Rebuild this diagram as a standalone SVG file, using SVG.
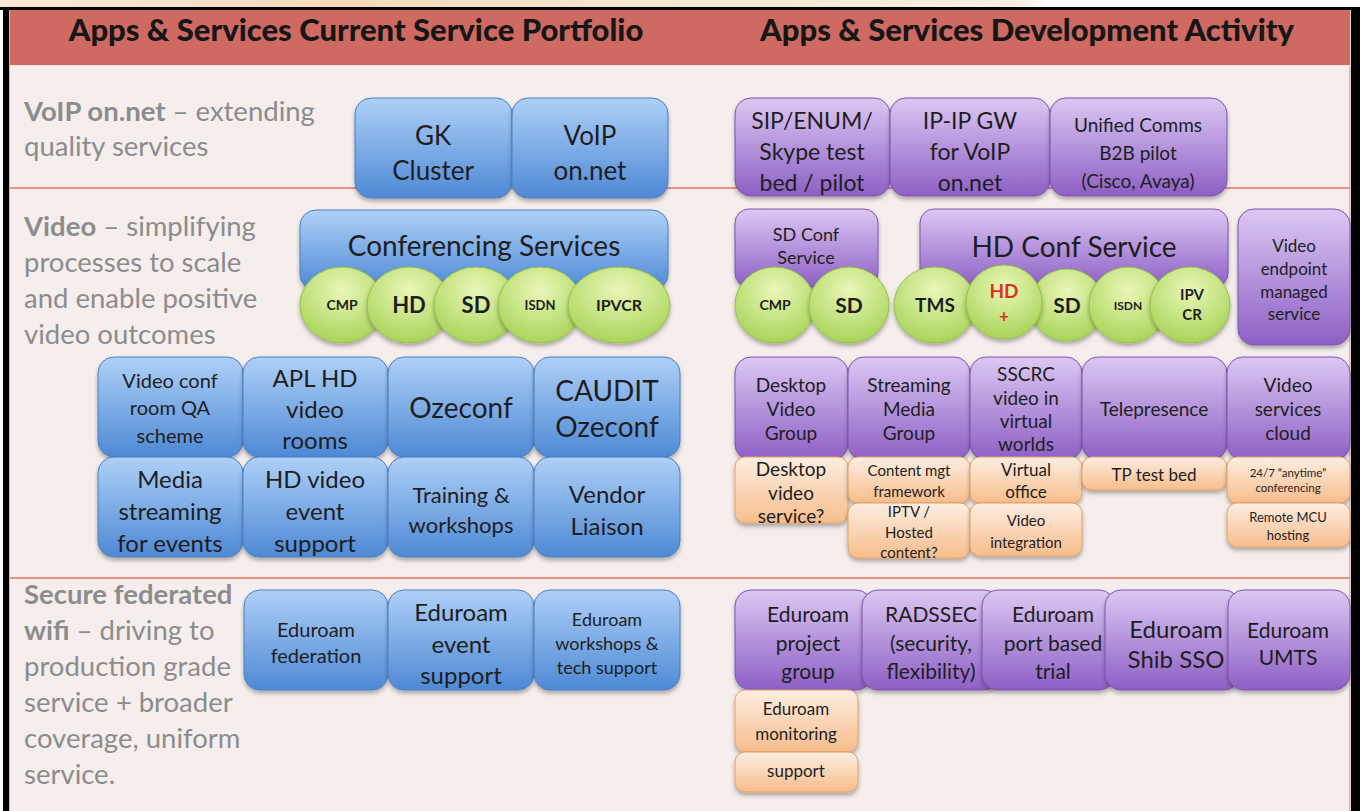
<svg xmlns="http://www.w3.org/2000/svg" width="1360" height="811" viewBox="0 0 1360 811">
<defs>
<linearGradient id="gTop" x1="0" y1="0" x2="1" y2="0">
<stop offset="0" stop-color="#f9e8d8"/><stop offset="0.25" stop-color="#f6d9b8"/><stop offset="0.45" stop-color="#f3e6cc"/><stop offset="0.75" stop-color="#f6efe2"/><stop offset="0.77" stop-color="#ffffff"/><stop offset="1" stop-color="#ffffff"/>
</linearGradient>
<linearGradient id="gBlue" x1="0" y1="0" x2="0" y2="1">
<stop offset="0" stop-color="#aed0f7"/><stop offset="1" stop-color="#4e89d5"/>
</linearGradient>
<linearGradient id="gPurple" x1="0" y1="0" x2="0" y2="1">
<stop offset="0" stop-color="#dcc8f3"/><stop offset="1" stop-color="#8d5fc5"/>
</linearGradient>
<linearGradient id="gOrange" x1="0" y1="0" x2="0" y2="1">
<stop offset="0" stop-color="#fdeee2"/><stop offset="1" stop-color="#f7bd8c"/>
</linearGradient>
<radialGradient id="gGreen" cx="0.5" cy="0.3" r="0.7">
<stop offset="0" stop-color="#eaf7b8"/><stop offset="1" stop-color="#a9d45a"/>
</radialGradient>
<filter id="sh" x="-10%" y="-10%" width="120%" height="130%">
<feDropShadow dx="0" dy="3" stdDeviation="2" flood-color="#000" flood-opacity="0.3"/>
</filter>
<style>
.blue{fill:url(#gBlue);stroke:#4a7fc0;stroke-width:1;filter:url(#sh)}
.purple{fill:url(#gPurple);stroke:#7c53b0;stroke-width:1;filter:url(#sh)}
.orange{fill:url(#gOrange);stroke:#e2a165;stroke-width:1;filter:url(#sh)}
.green{fill:url(#gGreen);stroke:#97c145;stroke-width:1;filter:url(#sh)}
text{font-family:Lato,"Open Sans","Liberation Sans",sans-serif;fill:#1e1e1e;text-anchor:middle}
.hd{font-weight:900;font-size:31px;fill:#161616}
.lt{font-size:27.5px;fill:#8c8c8c;text-anchor:start}
.b{font-weight:bold}
.gb{font-weight:bold}
.red{fill:#e0311f}
</style>
</defs>

<g id="frame">
<rect x="0" y="0" width="1360" height="811" fill="#ffffff"/>
<rect x="0" y="0" width="1360" height="8" fill="url(#gTop)"/>
<rect x="0" y="7" width="1360" height="3" fill="#000"/>
<rect x="3" y="7" width="6" height="804" fill="#000"/>
<rect x="1351" y="7" width="9" height="804" fill="#000"/>
<rect x="9" y="10" width="1342" height="801" fill="#f5eeec"/>
<rect x="9" y="10" width="1" height="801" fill="#e4b0aa"/>
<rect x="1349" y="10" width="1.5" height="801" fill="#e4b0aa"/>
<rect x="10" y="10" width="1340" height="56" fill="#ce6a62"/>
<rect x="10" y="65" width="1340" height="1.5" fill="#ffffff" opacity="0.8"/>
<rect x="10" y="187" width="1340" height="2" fill="#e3938c"/>
<rect x="10" y="577" width="1340" height="2" fill="#e3938c"/>
</g>

<g id="headers">
<text class="hd" x="356" y="41">Apps &amp; Services Current Service Portfolio</text>
<text class="hd" x="1027" y="41">Apps &amp; Services Development Activity</text>
</g>

<g id="section-labels">
<text class="lt" x="24" y="121"><tspan class="b">VoIP on.net</tspan> – extending</text>
<text class="lt" x="24" y="156">quality services</text>
<text class="lt" x="24" y="236"><tspan class="b">Video</tspan> – simplifying</text>
<text class="lt" x="24" y="272">processes to scale</text>
<text class="lt" x="24" y="308">and enable positive</text>
<text class="lt" x="24" y="344">video outcomes</text>
<text class="lt" x="24" y="604"><tspan class="b">Secure federated</tspan></text>
<text class="lt" x="24" y="640"><tspan class="b">wifi</tspan> – driving to</text>
<text class="lt" x="24" y="676">production grade</text>
<text class="lt" x="24" y="712">service + broader</text>
<text class="lt" x="24" y="748">coverage, uniform</text>
<text class="lt" x="24" y="784">service.</text>
</g>

<g id="connectors"></g>

<!-- Current portfolio: VoIP -->
<g id="gk-cluster"><rect class="blue" x="355" y="98" width="157" height="100" rx="16"/>
<text x="433" y="145" font-size="26">GK</text><text x="433" y="180" font-size="26">Cluster</text></g>
<g id="voip-onnet"><rect class="blue" x="512" y="98" width="156" height="100" rx="16"/>
<text x="590" y="145" font-size="26">VoIP</text><text x="590" y="180" font-size="26">on.net</text></g>

<!-- Conferencing -->
<g id="conferencing-services"><rect class="blue" x="300" y="210" width="368" height="80" rx="16"/>
<text x="484" y="256" font-size="28">Conferencing Services</text></g>
<g id="c-cmp"><ellipse class="green" cx="342" cy="305" rx="42" ry="38"/><text x="342" y="310" font-size="14" class="gb">CMP</text></g>
<g id="c-hd"><ellipse class="green" cx="409" cy="305" rx="42" ry="38"/><text x="409" y="313" font-size="22" class="gb">HD</text></g>
<g id="c-sd"><ellipse class="green" cx="476" cy="305" rx="42" ry="38"/><text x="476" y="313" font-size="22" class="gb">SD</text></g>
<g id="c-isdn"><ellipse class="green" cx="540" cy="305" rx="42" ry="38"/><text x="540" y="310" font-size="13" class="gb">ISDN</text></g>
<g id="c-ipvcr"><ellipse class="green" cx="619" cy="305" rx="51" ry="38"/><text x="619" y="311" font-size="16" class="gb">IPVCR</text></g>

<!-- Video grid -->
<g id="video-conf-qa"><rect class="blue" x="98" y="357" width="145" height="100" rx="16"/>
<text x="170" y="388" font-size="20">Video conf</text><text x="170" y="415" font-size="20">room QA</text><text x="170" y="443" font-size="20">scheme</text></g>
<g id="apl-hd"><rect class="blue" x="243" y="357" width="145" height="100" rx="16"/>
<text x="315" y="387" font-size="24">APL HD</text><text x="315" y="418" font-size="24">video</text><text x="315" y="449" font-size="24">rooms</text></g>
<g id="ozeconf"><rect class="blue" x="388" y="357" width="146" height="100" rx="16"/>
<text x="461" y="418" font-size="28">Ozeconf</text></g>
<g id="caudit-ozeconf"><rect class="blue" x="534" y="357" width="146" height="100" rx="16"/>
<text x="607" y="401" font-size="28">CAUDIT</text><text x="607" y="437" font-size="28">Ozeconf</text></g>
<g id="media-streaming"><rect class="blue" x="98" y="457" width="145" height="100" rx="16"/>
<text x="170" y="488" font-size="24">Media</text><text x="170" y="520" font-size="24">streaming</text><text x="170" y="552" font-size="24">for events</text></g>
<g id="hd-event"><rect class="blue" x="243" y="457" width="145" height="100" rx="16"/>
<text x="315" y="488" font-size="24">HD video</text><text x="315" y="520" font-size="24">event</text><text x="315" y="552" font-size="24">support</text></g>
<g id="training"><rect class="blue" x="388" y="457" width="146" height="100" rx="16"/>
<text x="461" y="503" font-size="22">Training &amp;</text><text x="461" y="533" font-size="22">workshops</text></g>
<g id="vendor-liaison"><rect class="blue" x="534" y="457" width="146" height="100" rx="16"/>
<text x="607" y="503" font-size="24">Vendor</text><text x="607" y="535" font-size="24">Liaison</text></g>

<!-- Wifi current -->
<g id="eduroam-federation"><rect class="blue" x="244" y="590" width="144" height="100" rx="16"/>
<text x="316" y="637" font-size="20">Eduroam</text><text x="316" y="663" font-size="20">federation</text></g>
<g id="eduroam-event"><rect class="blue" x="388" y="590" width="146" height="100" rx="16"/>
<text x="461" y="621" font-size="24">Eduroam</text><text x="461" y="653" font-size="24">event</text><text x="461" y="684" font-size="24">support</text></g>
<g id="eduroam-workshops"><rect class="blue" x="534" y="590" width="146" height="100" rx="16"/>
<text x="607" y="626" font-size="18">Eduroam</text><text x="607" y="650" font-size="18">workshops &amp;</text><text x="607" y="674" font-size="18">tech support</text></g>

<!-- Development: VoIP -->
<g id="sip-enum"><rect class="purple" x="735" y="98" width="155" height="98" rx="16"/>
<text x="812" y="129" font-size="23">SIP/ENUM/</text><text x="812" y="160" font-size="23">Skype test</text><text x="812" y="191" font-size="23">bed / pilot</text></g>
<g id="ip-ip-gw"><rect class="purple" x="890" y="98" width="160" height="98" rx="16"/>
<text x="970" y="129" font-size="23">IP-IP GW</text><text x="970" y="160" font-size="23">for VoIP</text><text x="970" y="191" font-size="23">on.net</text></g>
<g id="unified-comms"><rect class="purple" x="1050" y="98" width="177" height="98" rx="16"/>
<text x="1138" y="132" font-size="19">Unified Comms</text><text x="1138" y="160" font-size="19">B2B pilot</text><text x="1138" y="188" font-size="19">(Cisco, Avaya)</text></g>

<!-- Development: Video conf -->
<g id="sd-conf"><rect class="purple" x="735" y="209" width="143" height="78" rx="14"/>
<text x="806" y="241" font-size="18">SD Conf</text><text x="806" y="264" font-size="18">Service</text></g>
<g id="hd-conf"><rect class="purple" x="920" y="209" width="308" height="78" rx="14"/>
<text x="1074" y="257" font-size="28">HD Conf Service</text></g>
<g id="video-endpoint"><rect class="purple" x="1238" y="209" width="112" height="136" rx="16"/>
<text x="1294" y="252" font-size="17">Video</text><text x="1294" y="275" font-size="17">endpoint</text><text x="1294" y="298" font-size="17">managed</text><text x="1294" y="320" font-size="17">service</text></g>
<g id="d-cmp"><ellipse class="green" cx="775" cy="305" rx="40" ry="38"/><text x="775" y="310" font-size="14" class="gb">CMP</text></g>
<g id="d-sd1"><ellipse class="green" cx="849" cy="305" rx="40" ry="38"/><text x="849" y="313" font-size="21" class="gb">SD</text></g>
<g id="d-tms"><ellipse class="green" cx="935" cy="305" rx="41" ry="38"/><text x="935" y="312" font-size="19" class="gb">TMS</text></g>
<g id="d-sd2"><ellipse class="green" cx="1067" cy="305" rx="37" ry="36"/><text x="1067" y="313" font-size="21" class="gb">SD</text></g>
<g id="d-hdplus"><ellipse class="green" cx="1004" cy="302" rx="38" ry="37"/><text x="1004" y="298" font-size="19" class="gb red">HD</text><text x="1004" y="322" font-size="17" class="gb red">+</text></g>
<g id="d-isdn"><ellipse class="green" cx="1128" cy="305" rx="39" ry="38"/><text x="1128" y="310" font-size="12" class="gb">ISDN</text></g>
<g id="d-ipvcr"><ellipse class="green" cx="1190" cy="305" rx="40" ry="38"/><text x="1192" y="300" font-size="15" class="gb">IPV</text><text x="1192" y="320" font-size="15" class="gb">CR</text></g>

<!-- Development: Video groups -->
<g id="desktop-video-group"><rect class="purple" x="735" y="357" width="113" height="103" rx="16"/>
<text x="791" y="392" font-size="19">Desktop</text><text x="791" y="416" font-size="19">Video</text><text x="791" y="440" font-size="19">Group</text></g>
<g id="streaming-media-group"><rect class="purple" x="848" y="357" width="122" height="103" rx="16"/>
<text x="909" y="392" font-size="19">Streaming</text><text x="909" y="416" font-size="19">Media</text><text x="909" y="440" font-size="19">Group</text></g>
<g id="sscrc"><rect class="purple" x="970" y="357" width="112" height="103" rx="16"/>
<text x="1026" y="381" font-size="19">SSCRC</text><text x="1026" y="405" font-size="19">video in</text><text x="1026" y="428" font-size="19">virtual</text><text x="1026" y="451" font-size="19">worlds</text></g>
<g id="telepresence"><rect class="purple" x="1082" y="357" width="145" height="103" rx="16"/>
<text x="1154" y="416" font-size="19">Telepresence</text></g>
<g id="video-services-cloud"><rect class="purple" x="1227" y="357" width="123" height="103" rx="16"/>
<text x="1288" y="392" font-size="19">Video</text><text x="1288" y="416" font-size="19">services</text><text x="1288" y="440" font-size="19">cloud</text></g>

<g id="desktop-video-service"><rect class="orange" x="735" y="457" width="113" height="66" rx="10"/>
<text x="791" y="476" font-size="19">Desktop</text><text x="791" y="500" font-size="19">video</text><text x="791" y="523" font-size="19">service?</text></g>
<g id="content-mgt"><rect class="orange" x="848" y="457" width="122" height="46" rx="10"/>
<text x="909" y="476" font-size="15">Content mgt</text><text x="909" y="497" font-size="15">framework</text></g>
<g id="iptv"><rect class="orange" x="848" y="503" width="122" height="55" rx="10"/>
<text x="909" y="517" font-size="15">IPTV /</text><text x="909" y="538" font-size="15">Hosted</text><text x="909" y="558" font-size="15">content?</text></g>
<g id="virtual-office"><rect class="orange" x="970" y="457" width="112" height="46" rx="10"/>
<text x="1026" y="476" font-size="17">Virtual</text><text x="1026" y="498" font-size="17">office</text></g>
<g id="video-integration"><rect class="orange" x="970" y="503" width="112" height="53" rx="10"/>
<text x="1026" y="526" font-size="15">Video</text><text x="1026" y="548" font-size="15">integration</text></g>
<g id="tp-test-bed"><rect class="orange" x="1082" y="457" width="145" height="33" rx="10"/>
<text x="1154" y="481" font-size="17">TP test bed</text></g>
<g id="anytime-conf"><rect class="orange" x="1227" y="457" width="123" height="46" rx="10"/>
<text x="1288" y="477" font-size="11.5">24/7 “anytime”</text><text x="1288" y="492" font-size="11.5">conferencing</text></g>
<g id="remote-mcu"><rect class="orange" x="1227" y="503" width="123" height="44" rx="10"/>
<text x="1288" y="522" font-size="13">Remote MCU</text><text x="1288" y="540" font-size="13">hosting</text></g>

<!-- Development: wifi -->
<g id="eduroam-project-group"><rect class="purple" x="735" y="590" width="137" height="100" rx="16"/>
<text x="808" y="622" font-size="21">Eduroam</text><text x="808" y="651" font-size="21">project</text><text x="808" y="679" font-size="21">group</text></g>
<g id="radssec"><rect class="purple" x="862" y="590" width="138" height="100" rx="16"/>
<text x="931" y="622" font-size="21">RADSSEC</text><text x="931" y="651" font-size="21">(security,</text><text x="931" y="679" font-size="21">flexibility)</text></g>
<g id="eduroam-port"><rect class="purple" x="982" y="590" width="133" height="100" rx="16"/>
<text x="1053" y="622" font-size="21">Eduroam</text><text x="1053" y="651" font-size="21">port based</text><text x="1053" y="679" font-size="21">trial</text></g>
<g id="eduroam-shib"><rect class="purple" x="1105" y="590" width="135" height="100" rx="16"/>
<text x="1176" y="638" font-size="24">Eduroam</text><text x="1176" y="668" font-size="24">Shib SSO</text></g>
<g id="eduroam-umts"><rect class="purple" x="1228" y="590" width="122" height="100" rx="16"/>
<text x="1288" y="638" font-size="21">Eduroam</text><text x="1288" y="665" font-size="21">UMTS</text></g>
<g id="eduroam-monitoring"><rect class="orange" x="735" y="690" width="123" height="62" rx="10"/>
<text x="796" y="715" font-size="17">Eduroam</text><text x="796" y="740" font-size="17">monitoring</text></g>
<g id="support"><rect class="orange" x="735" y="752" width="123" height="40" rx="10"/>
<text x="796" y="777" font-size="17">support</text></g>
</svg>
